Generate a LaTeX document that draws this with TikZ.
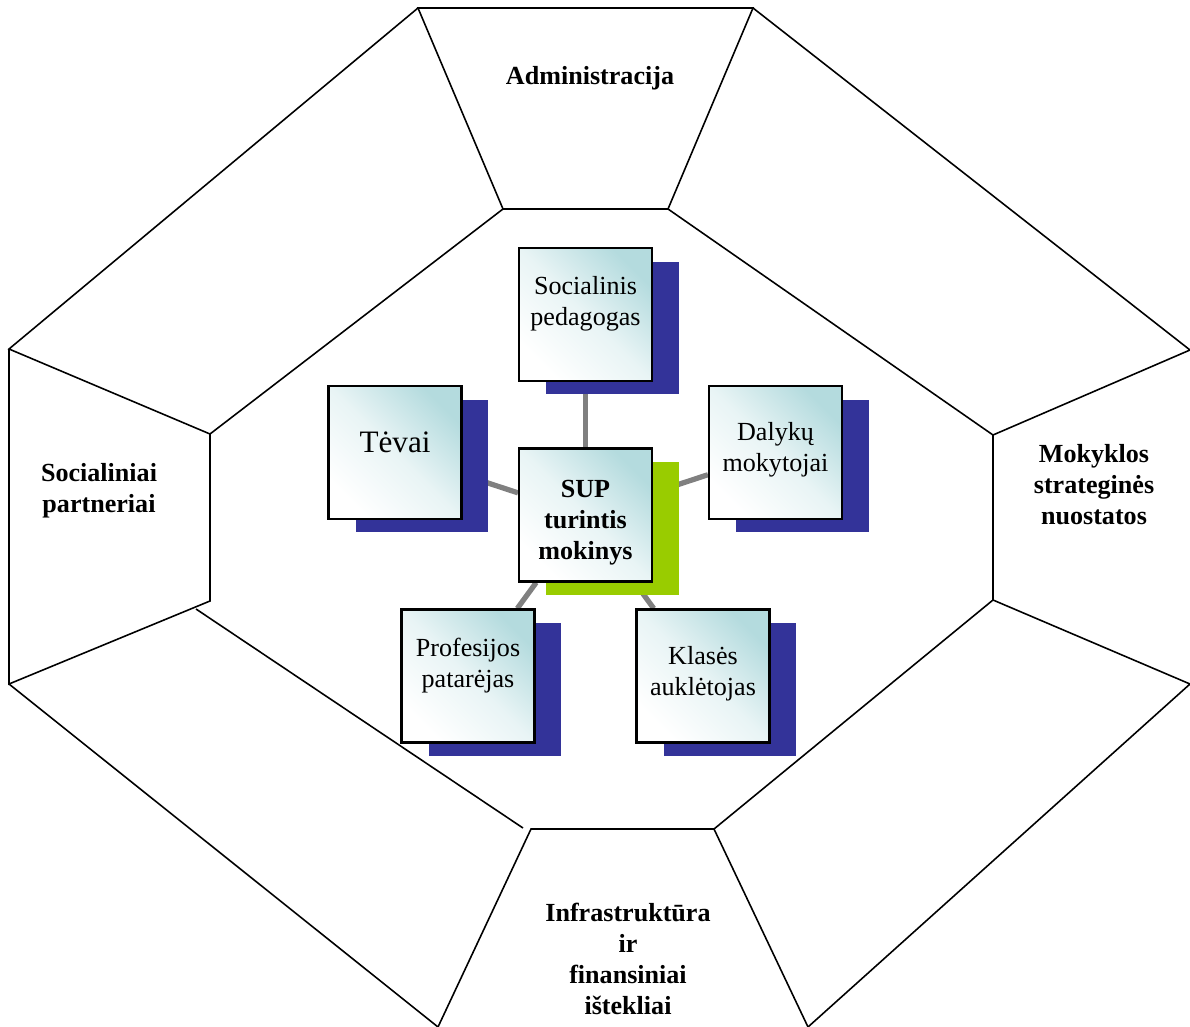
\documentclass[tikz,border=0pt]{standalone}
\usepackage{fontspec}
\setmainfont{Liberation Serif}
\usetikzlibrary{shadows}
\definecolor{shadowblue}{RGB}{51,51,153}
\definecolor{shadowgreen}{RGB}{153,204,0}
\definecolor{boxteal}{RGB}{180,219,222}
\definecolor{linkgray}{RGB}{128,128,128}
\pgfdeclarelayer{background}
\pgfsetlayers{background,main}
\tikzset{
  sector/.style={line width=0.9pt},
  box/.style={draw=black, line width=1.2pt, minimum width=2.66cm, minimum height=2.66cm,
    inner sep=0pt, top color=boxteal, bottom color=white, middle color=boxteal!30!white,
    shading angle=-45,
    general shadow={fill=#1, shadow xshift=0.54cm, shadow yshift=-0.27cm}},
  box/.default=shadowblue,
  boxtext/.style={inner sep=0pt, align=center, font=\fontsize{14.85}{17.6}\selectfont},
  label/.style={inner sep=0pt, align=center, font=\fontsize{14.85}{17.6}\selectfont\bfseries},
  link/.style={draw=linkgray, line width=3pt}
}
\begin{document}
\begin{tikzpicture}[x=0.02cm,y=-0.02cm]
    \useasboundingbox (0,0) rectangle (1190,1027);

    % sectors round the centre
    \draw[sector] (418,8) -- (753,8) -- (668,209) -- (503,209) -- cycle;
    \draw[sector] (418,8) -- (9,349) -- (210,434) -- (503,209);
    \draw[sector] (9,349) -- (9,684) -- (210,601) -- (210,434);
    \draw[sector] (9,684) -- (438,1027);
    \draw[sector] (196,609) -- (523,828);
    \draw[sector] (438,1027) -- (531,829) -- (714,829) -- (808,1027);
    \draw[sector] (714,829) -- (993,600) -- (993,435) -- (668,209);
    \draw[sector] (753,8) -- (1190,350) -- (993,435);
    \draw[sector] (993,600) -- (1190,684) -- (808,1027);

    \node[label](adm)at(590,78){Administracija};
    \node[label](socp)at(99,491){Socialiniai\\partneriai};
    \node[label](strat)at(1094,485){Mokyklos\\strateginės\\nuostatos};
    \node[label](infra)at(628,959){Infrastruktūra\\ir\\finansiniai\\ištekliai};

    % boxes
    \node[box](soc)at(585.5,314.5){};
    \node[box](tev)at(395,452.5){};
    \node[box](dal)at(775.5,452.5){};
    \node[box=shadowgreen](sup)at(585.5,515){};
    \node[box](pro)at(468,676){};
    \node[box](kla)at(703,676){};

    \node[boxtext](soc-t)at(585.5,304){Socialinis\\pedagogas};
    \node[boxtext,font=\fontsize{17.75}{21}\selectfont](tev-t)at(395,442){Tėvai};
    \node[boxtext](dal-t)at(775.5,450){Dalykų\\mokytojai};
    \node[boxtext,font=\fontsize{14.85}{17.6}\selectfont\bfseries](sup-t)at(585.5,523){SUP\\turintis\\mokinys};
    \node[boxtext](pro-t)at(468,665.5){Profesijos\\patarėjas};
    \node[boxtext](kla-t)at(703,673.5){Klasės\\auklėtojas};

    \begin{pgfonlayer}{background}
        \draw[link] (sup) -- (soc);
        \draw[link] (sup) -- (tev);
        \draw[link] (sup) -- (dal);
        \draw[link] (sup) -- (pro);
        \draw[link] (sup) -- (kla);
    \end{pgfonlayer}
\end{tikzpicture}
\end{document}
